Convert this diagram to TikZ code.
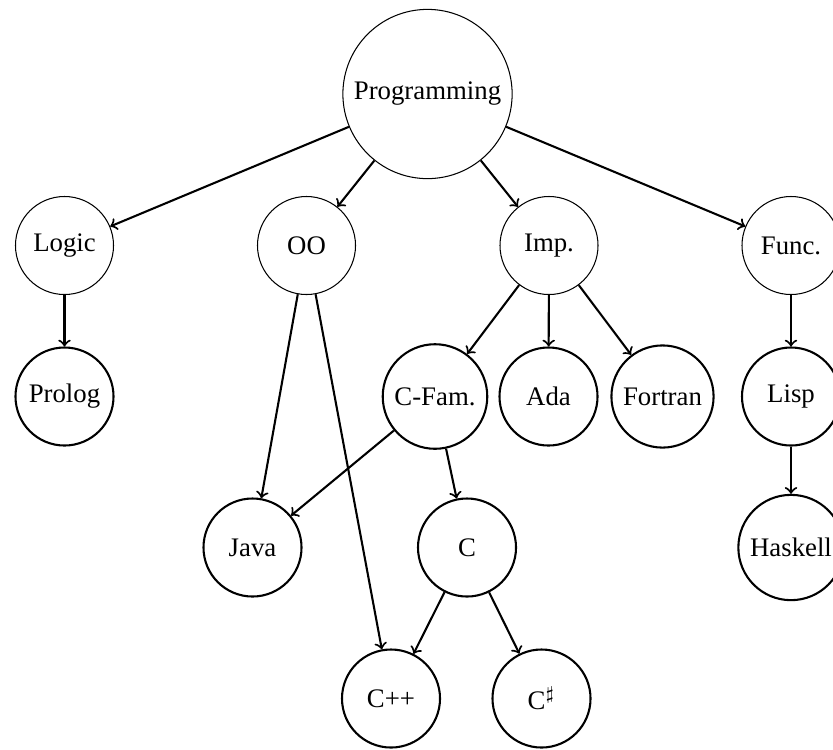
\documentclass[tikz,border=0pt]{standalone}
\usepackage{fontspec}
\setmainfont{Liberation Serif}

\tikzset{every picture/.style={line width=0.75pt}}
\tikzset{
  topic/.style={circle,draw,thin,minimum size=37.7pt,font=\fontsize{10.3}{12}\selectfont},
  lang/.style={circle,draw,thick,minimum size=37.7pt,font=\fontsize{10.3}{12}\selectfont},
  link/.style={->,thick}
}

\begin{document}
\begin{tikzpicture}[x=0.3846pt,y=0.3846pt,yscale=-1,xscale=1]
%set diagram left start at 0, and has height of 749
\useasboundingbox (0,0) rectangle (833,749);

%Shape: Circle (top)
\node [topic] (prog) at (427.5,94) {Programming};
%Shape: Circle (paradigms)
\node [topic] (logic) at (64.5,245.5) {Logic};
\node [topic] (oo) at (306.5,245.5) {OO};
\node [topic] (imp) at (549,245.5) {Imp.};
\node [topic] (func) at (791,245.5) {Func.};
%Shape: Circle (languages)
\node [lang] (prolog) at (64.5,396.5) {Prolog};
\node [lang] (cfam) at (435,396.5) {C-Fam.};
\node [lang] (ada) at (548.5,396.5) {Ada};
\node [lang] (fortran) at (662.5,396.5) {Fortran};
\node [lang] (lisp) at (791,396.5) {Lisp};
\node [lang] (java) at (252.5,547.5) {Java};
\node [lang] (c) at (467,547.5) {C};
\node [lang] (haskell) at (791,547.5) {Haskell};
\node [lang] (cpp) at (391,698.5) {C++};
\node [lang] (csharp) at (541.5,698.5) {C$^\sharp$};

%Straight Lines
\draw [link] (prog) -- (logic);
\draw [link] (prog) -- (oo);
\draw [link] (prog) -- (imp);
\draw [link] (prog) -- (func);
\draw [link] (logic) -- (prolog);
\draw [link] (oo) -- (java);
\draw [link] (oo) -- (cpp);
\draw [link] (imp) -- (cfam);
\draw [link] (imp) -- (ada);
\draw [link] (imp) -- (fortran);
\draw [link] (cfam) -- (java);
\draw [link] (cfam) -- (c);
\draw [link] (c) -- (cpp);
\draw [link] (c) -- (csharp);
\draw [link] (func) -- (lisp);
\draw [link] (lisp) -- (haskell);

\end{tikzpicture}
\end{document}
